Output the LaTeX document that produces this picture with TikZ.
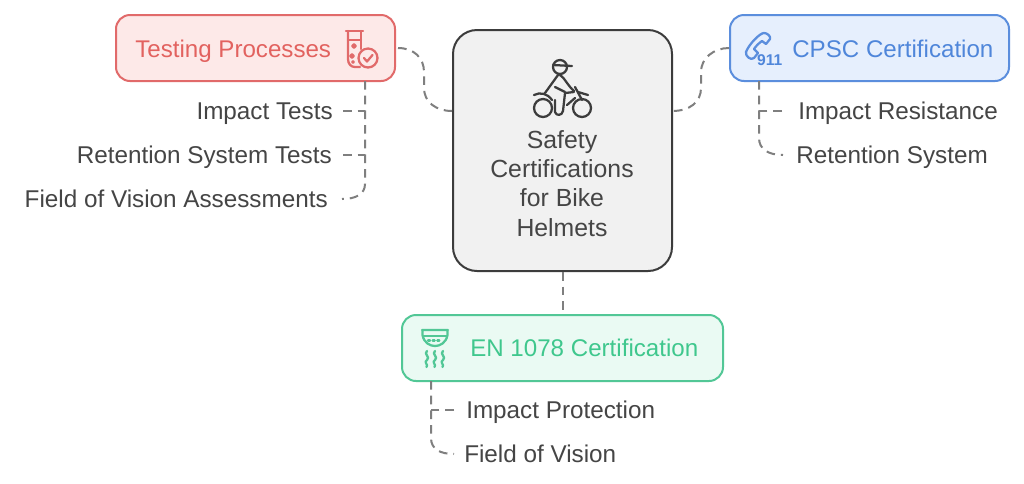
\documentclass[tikz,border=0pt]{standalone}
\usepackage{fontspec}
\setmainfont{Liberation Sans}
\usetikzlibrary{calc}
\definecolor{redS}{HTML}{E16A6A}\definecolor{redF}{HTML}{FDE9E8}\definecolor{redT}{HTML}{E2625F}
\definecolor{bluS}{HTML}{5B8EDD}\definecolor{bluF}{HTML}{E6EFFD}\definecolor{bluT}{HTML}{4F86DA}
\definecolor{grnS}{HTML}{52C796}\definecolor{grnF}{HTML}{EAFAF3}\definecolor{grnT}{HTML}{3FC78D}
\definecolor{cenS}{HTML}{3C3C3C}\definecolor{cenF}{HTML}{F1F1F1}
\definecolor{txt}{HTML}{454545}\definecolor{lnk}{HTML}{7F7F7F}
\tikzset{
  x=0.75pt,y=-0.75pt,
  cat/.style={draw=#1S,fill=#1F,line width=1.5pt,rounded corners=10.5pt,inner sep=0pt,anchor=north west},
  ttl/.style={font=\fontsize{18.1pt}{20pt}\selectfont,text=#1,inner sep=0pt},
  item/.style={font=\fontsize{18.2pt}{20pt}\selectfont,text=txt,inner sep=0pt},
  link/.style={draw=lnk,line width=1.5pt,dash pattern=on 6.5pt off 4.5pt},
  ico/.style={line width=1.7pt,line cap=round,line join=round},
}
\begin{document}
\begin{tikzpicture}
\useasboundingbox (0,0) rectangle (1024,483);
\fill[white] (0,0) rectangle (1024,483);
% boxes
\node[cat=red,minimum width=209.25pt,minimum height=49.5pt] (testing) at (115,14) {};
\node[cat=blu,minimum width=209.25pt,minimum height=49.5pt] (cpsc) at (729,14) {};
\node[cat=grn,minimum width=240.75pt,minimum height=49.5pt] (en) at (401,314) {};
\node[draw=cenS,fill=cenF,line width=1.5pt,rounded corners=18pt,minimum width=164.25pt,minimum height=180.75pt,anchor=north west,inner sep=0pt] (center) at (452,29) {};
% titles
\node[ttl=redT,anchor=base west] (ttesting) at (135,57) {Testing Processes};
\node[ttl=bluT,anchor=base west] (tcpsc) at (792,57) {CPSC Certification};
\node[ttl=grnT,anchor=base west] (ten) at (470,356) {EN 1078 Certification};
\node[item,align=center,anchor=north,font=\fontsize{18.6pt}{22pt}\selectfont] (tcenter) at (562,130) {Safety\\[0pt]Certifications\\[0pt]for Bike\\[0pt]Helmets};
% items
\node[item,anchor=base east] (i1) at (333,119) {Impact Tests};
\node[item,anchor=base east] (i2) at (332,163) {Retention System Tests};
\node[item,anchor=base east] (i3) at (328,207) {Field of Vision Assessments};
\node[item,anchor=base west] (c1) at (798,119) {Impact Resistance};
\node[item,anchor=base west] (c2) at (796,163) {Retention System};
\node[item,anchor=base west] (e1) at (466,418) {Impact Protection};
\node[item,anchor=base west] (e2) at (464,462) {Field of Vision};
% named ends
\coordinate (tS) at (398,48); \coordinate (tE) at (452,111);
\coordinate (cS) at (729,48); \coordinate (cE) at (672,111);
\coordinate (tT) at (365,81); \coordinate (cT) at (759,81); \coordinate (eT) at (431,381);
% connectors
\draw[link] (tS) .. controls (414,48) and (424,58) .. (424,72) -- (424,88) .. controls (424,102) and (436,111) .. (tE);
\draw[link] (cS) .. controls (714,48) and (701,58) .. (701,72) -- (701,88) .. controls (701,102) and (690,111) .. (cE);
\draw[link] (center.south) -- (en.north -| center.south);
\draw[link] (tT) -- (365,184) .. controls (365,194) and (356,199) .. (342,199);
\draw[link] (343,111) -- (365,111);
\draw[link] (343,155) -- (365,155);
\draw[link] (cT) -- (759,138) .. controls (759,149) and (768,155) .. (783,155);
\draw[link] (782,111) -- (759,111);
\draw[link] (eT) -- (431,438) .. controls (431,449) and (440,454) .. (454,454);
\draw[link] (454,410) -- (431,410);
% test tube icon
\begin{scope}[shift={(346,31)},draw=redS,ico]
\draw (0,0) -- (17,0);
\draw (2,0) -- (2,28) .. controls (2,33) and (5,36) .. (9,36) -- (14,36);
\draw (15,0) -- (15,18);
\draw (2,9) -- (15,9);
\draw (8,15) circle[radius=1.8] (6,25) circle[radius=1.8] (7,31) circle[radius=0.8];
\draw[fill=redF] (22,27) circle[radius=9.5];
\draw (18,27) -- (21,30.5) -- (26.5,24);
\end{scope}
% phone icon
\begin{scope}[shift={(745,32)},draw=bluS,ico]
\draw (19,1) .. controls (15,1) and (4,12) .. (1,20) .. controls (0,24) and (6,29) .. (9,26) -- (13,21) -- (9,17) .. controls (11,14) and (14,11) .. (17,9) -- (21,12) -- (25,7) .. controls (26,4) and (22,1) .. (19,1) -- cycle;
\node[font=\fontsize{11.7pt}{12pt}\selectfont\bfseries,text=bluT,inner sep=0pt,anchor=base west] (n911) at (11,33) {911};
\end{scope}
% biker icon
\begin{scope}[shift={(530,59)},draw=cenS,ico]
\draw (13,49) circle[radius=9] (52,49) circle[radius=9];
\draw (4,36) .. controls (10,33) and (17,34) .. (22,41);
\draw (15,34) -- (28,16) (30,16) .. controls (34,18) and (38,27) .. (44,32);
\draw (25,28) -- (35,33);
\draw (25,41) -- (25,53) .. controls (26,57) and (32,57) .. (33,52) -- (35,34) -- (44,33);
\draw (45,28) -- (52,41) (48,33) -- (58,36) (37,46) -- (45,39);
\draw (30,8) circle[radius=7];
\draw (23,6) -- (42,7);
\end{scope}
% detector icon
\begin{scope}[shift={(421,329)},draw=grnS,ico]
\draw (1,1) -- (27,1) (1.5,1) -- (1.5,6) .. controls (3,14) and (9,17) .. (14,17) .. controls (19,17) and (25,14) .. (26.5,6) -- (26.5,1);
\draw (2,7) -- (26,7);
\draw[dash pattern=on 1.5pt off 2pt] (7,11.5) -- (21,11.5);
\foreach \sx in {6,14,22}
  \draw (\sx,22) .. controls (\sx-4,25) and (\sx+4,28) .. (\sx,31) .. controls (\sx-4,33) and (\sx+2,36) .. (\sx-0.5,38);
\end{scope}
\end{tikzpicture}
\end{document}
